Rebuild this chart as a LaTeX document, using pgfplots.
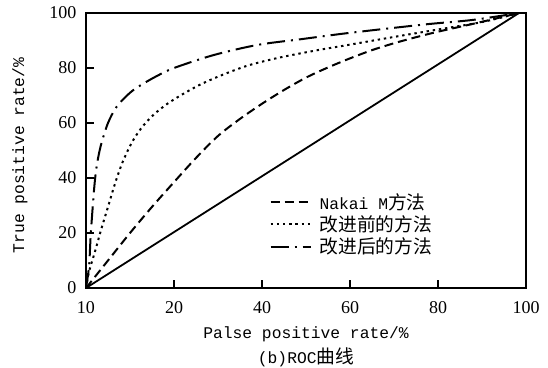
\documentclass[border=0pt]{standalone}
\usepackage{fontspec}
\setmainfont{Liberation Mono}
\newfontfamily\cjk{Noto Sans CJK SC}[Scale=1.15]
\newfontfamily\serif{Liberation Serif}
\usepackage{pgfplots}
\pgfplotsset{compat=1.18}
\begin{document}
\begin{tikzpicture}
\useasboundingbox (-86pt,-79pt) rectangle (462pt,288pt);
\begin{axis}[
 scale only axis, width=440pt, height=275pt,
 clip mode=individual,
 xmin=0,xmax=100,ymin=0,ymax=100,
 xtick={0,20,40,60,80,100}, xticklabels={10,20,40,60,80,100},
 ytick={0,20,40,60,80,100},
 tick pos=left, tick align=inside, major tick length=8pt,
 axis line style={line width=1.3pt},
 tick style={line width=1.2pt, black},
 /pgf/number format/assume math mode=true,
 ticklabel style={font=\serif\fontsize{18}{18}\selectfont},
 xticklabel style={yshift=-10pt},
 yticklabel style={xshift=-6pt},
 label style={font=\fontsize{16.3}{18}\selectfont},
 xlabel={Palse positive rate/\%},
 xlabel style={at={(axis description cs:0.5,-0.168)}, anchor=center},
 ylabel={True positive rate/\%},
 ylabel style={at={(axis description cs:-0.15,0.482)}, anchor=center},
 legend style={draw=none, fill=none, at={(axis description cs:0.41,0.36)}, anchor=north west, font=\fontsize{16.3}{18}\selectfont, row sep=1pt, column sep=6pt},
 legend cell align=left,
 legend image code/.code={\draw[#1] (0pt,0pt) -- (40pt,0pt);},
]
\addplot[black, line width=1.8pt, forget plot] coordinates {(0,0) (98.4,100)};
\addplot[black, line width=2pt, smooth, tension=0.5, dash pattern=on 9pt off 5pt] coordinates {
(0,0) (5,10) (10,20) (15,29.5) (20,38.5) (25,47.3) (30,55.3) (35,61.5) (40,67) (45,72) (50,76.5) (55,80.2) (60,83.5) (65,86.5) (70,89) (75,91.2) (80,93.2) (85,95) (90,96.8) (98.4,100)};
\addlegendentry{Nakai M{\cjk 方法}}
\addplot[black, line width=2pt, smooth, tension=0.5, dash pattern=on 2.4pt off 3.8pt] coordinates {
(0,0) (0.7,6) (2,13) (3.4,21) (5,29.5) (6.5,37.5) (8,44.5) (9.5,50) (11,54.5) (13,59) (15.5,63.2) (18.5,67) (22,70.5) (26,74) (31,77.5) (37,81) (44,83.8) (52,86.3) (60,88.5) (70,91.3) (80,94) (90,96.7) (98.4,100)};
\addlegendentry{{\cjk 改进前的方法}}
\addplot[black, line width=2pt, smooth, tension=0.5, dash pattern=on 18pt off 6pt on 2pt off 6pt] coordinates {
(0,0) (0.7,8) (1.1,20) (1.9,37) (2.5,45) (3.4,52) (5,60) (7,66) (10,71) (12.5,73.8) (16,77) (20,80) (29,84.7) (39,88.4) (49,90.5) (58,92.4) (67.7,94.2) (78,96) (88,97.5) (98.4,100)};
\addlegendentry{{\cjk 改进后的方法}}
\node[font=\fontsize{16.3}{18}\selectfont] at (axis description cs:0.5,-0.251) {(b)ROC{\cjk 曲线}};
\end{axis}
\end{tikzpicture}
\end{document}
